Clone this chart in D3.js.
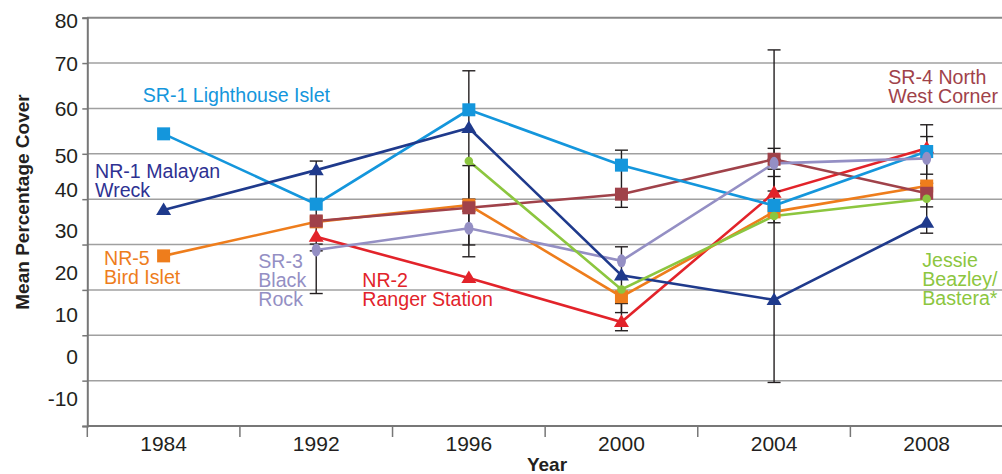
<!DOCTYPE html>
<html>
<head>
<meta charset="utf-8">
<script src="https://cdn.jsdelivr.net/npm/d3@7"></script>
<style>
  body { margin: 0; background: #fff; }
  svg { display: block; font-family: "Liberation Sans", Arial, sans-serif; }
</style>
</head>
<body>
<svg width="1002" height="474"></svg>
<script>
// values
const years = ["1984", "1992", "1996", "2000", "2004", "2008"];
const yTicks = [80, 70, 60, 50, 40, 30, 20, 10, 0, -10];

const sr1 = [54.4, 38.9, 59.7, 47.5, 38.6, 50.5];
const nr1 = [37.6, 46.4, 55.7, 23.2, 17.8, 34.8];
const nr5 = [27.5, 35.0, 38.7, 18.5, 37.2, 42.9];
const sr3 = [null, 28.8, 33.6, 26.4, 47.9, 49.0];
const nr2 = [null, 31.7, 22.6, 12.9, 41.4, 51.2];
const sr4 = [null, 35.2, 38.1, 41.1, 48.8, 41.3];
const jb  = [null, null, 48.4, 20.1, 36.3, 40.1];

// error bars (low, high) per year
const errYears = ["1992", "1992", "1996", "1996", "1996", "2000", "2000", "2000", "2004", "2004", "2004", "2004", "2008", "2008", "2008"];
const errLow  = [19.2, 28.6, 40.0, 27.3, 29.9, 38.2, 11.0, 15.0, -0.4, 46.6, 34.8, 41.8, 45.5, 38.3, 32.5];
const errHigh = [48.4, 30.1, 68.3, 47.4, 37.3, 50.8, 29.5, 17.0, 72.9, 51.2, 45.0, 48.8, 56.4, 53.8, 43.5];

// the tick labels in the source sit a bit off their gridlines
const labelAt = [79.5, 69.9, 60.0, 49.7, 42.2, 33.2, 23.8, 14.5, 5.3, -3.9];

const svg = d3.select("svg");
const x = d3.scaleBand().domain(years).range([87.3, 1003]);
const y = d3.scaleLinear().domain([-10, 80]).range([426, 17.7]);
const cx = d => x(d) + x.bandwidth() / 2;

// series styles (draw order = back to front)
const series = [
  {vals: nr2, color: "#e2232a", shape: "tri"},
  {vals: nr5, color: "#ee7d1c", shape: "sq"},
  {vals: sr4, color: "#a0424a", shape: "sq"},
  {vals: sr1, color: "#1496dc", shape: "sq"},
  {vals: sr3, color: "#948fc4", shape: "ell"},
  {vals: nr1, color: "#1f3a8c", shape: "tri"},
  {vals: jb,  color: "#8cc63f", shape: "dot"}
];

// grid
svg.append("g").selectAll("line").data(yTicks).enter().append("line")
  .attr("x1", 87).attr("x2", 1002)
  .attr("y1", d => y(d)).attr("y2", d => y(d))
  .attr("stroke", d => d == 80 ? "#888" : "#a0a0a0")
  .attr("stroke-width", d => d == 80 ? 2 : 1.5);

// y axis
const yAx = svg.append("g").attr("transform", "translate(87.3,0)")
  .call(d3.axisLeft(y).tickValues(yTicks).tickSize(5).tickFormat(""));
yAx.select(".domain").attr("stroke", "#777").attr("stroke-width", 2);
yAx.selectAll(".tick line").attr("stroke", "#777").attr("stroke-width", 1.5);

svg.append("g").selectAll("text").data(yTicks).enter().append("text")
  .attr("x", 78).attr("y", (d, i) => y(labelAt[i])).attr("dy", "0.36em")
  .attr("text-anchor", "end").attr("font-size", 21).attr("fill", "#231f20")
  .text(d => d);

// x axis
const xAx = svg.append("g").attr("transform", "translate(0,426)");
xAx.append("line").attr("x1", 87.3).attr("x2", 1002).attr("stroke", "#777").attr("stroke-width", 2);
xAx.selectAll(".tk").data(years).enter().append("line")
  .attr("x1", d => x(d)).attr("x2", d => x(d)).attr("y1", 0).attr("y2", 11)
  .attr("stroke", "#777").attr("stroke-width", 1.5);
xAx.selectAll("text").data(years).enter().append("text")
  .attr("x", d => cx(d)).attr("y", 25).attr("text-anchor", "middle")
  .attr("font-size", 21).attr("fill", "#231f20").text(d => d);

// titles
svg.append("text").attr("transform", "translate(29,202) rotate(-90)")
  .attr("text-anchor", "middle").attr("font-size", 19).attr("font-weight", "bold")
  .attr("fill", "#231f20").text("Mean Percentage Cover");
svg.append("text").attr("x", 547).attr("y", 471).attr("text-anchor", "middle")
  .attr("font-size", 19).attr("font-weight", "bold").attr("fill", "#231f20").text("Year");

// lines
const line = d3.line().defined(d => d.v != null).x(d => cx(d.yr)).y(d => y(d.v));
series.forEach(s => {
  svg.append("path").datum(years.map((yr, i) => ({yr: yr, v: s.vals[i]})))
    .attr("d", line).attr("fill", "none").attr("stroke", s.color).attr("stroke-width", 2.6);
});

// error bars
const eb = svg.append("g").attr("stroke", "#231f20").attr("stroke-width", 1.4);
errYears.forEach((yr, i) => {
  eb.append("line").attr("x1", cx(yr)).attr("x2", cx(yr)).attr("y1", y(errLow[i])).attr("y2", y(errHigh[i]));
  [errLow[i], errHigh[i]].forEach(v => {
    eb.append("line").attr("x1", cx(yr) - 6.5).attr("x2", cx(yr) + 6.5).attr("y1", y(v)).attr("y2", y(v));
  });
});

// markers
series.forEach(s => {
  const g = svg.append("g").attr("fill", s.color);
  years.forEach((yr, i) => {
    const v = s.vals[i];
    if (v == null) return;
    const px = cx(yr), py = y(v);
    if (s.shape == "sq") {
      g.append("rect").attr("x", px - 6.5).attr("y", py - 6.5).attr("width", 13).attr("height", 13);
    } else if (s.shape == "tri") {
      g.append("path").attr("d", `M${px},${py - 7.5}L${px + 7.5},${py + 5}L${px - 7.5},${py + 5}Z`);
    } else if (s.shape == "ell") {
      g.append("ellipse").attr("cx", px).attr("cy", py).attr("rx", 4.5).attr("ry", 6.5);
    } else {
      g.append("circle").attr("cx", px).attr("cy", py).attr("r", 4.3);
    }
  });
});

// series labels
const notes = [
  {lines: ["SR-1 Lighthouse Islet"], color: "#1496dc", x: 142.7, y: 101.7},
  {lines: ["NR-1 Malayan", "Wreck"], color: "#2e3192", x: 95, y: 178.3},
  {lines: ["NR-5", "Bird Islet"], color: "#ee7d1c", x: 104, y: 265},
  {lines: ["SR-3", "Black", "Rock"], color: "#948fc4", x: 258.3, y: 267.7},
  {lines: ["NR-2", "Ranger Station"], color: "#e2232a", x: 362.3, y: 286.7},
  {lines: ["SR-4 North", "West Corner"], color: "#a0424a", x: 888.3, y: 84},
  {lines: ["Jessie", "Beazley/", "Bastera*"], color: "#8cc63f", x: 922.3, y: 267.3}
];
notes.forEach(n => {
  const t = svg.append("text").attr("font-size", 19.6).attr("fill", n.color);
  n.lines.forEach((l, i) => {
    t.append("tspan").attr("x", n.x).attr("y", n.y + i * 19).text(l);
  });
});
</script>
</body>
</html>
